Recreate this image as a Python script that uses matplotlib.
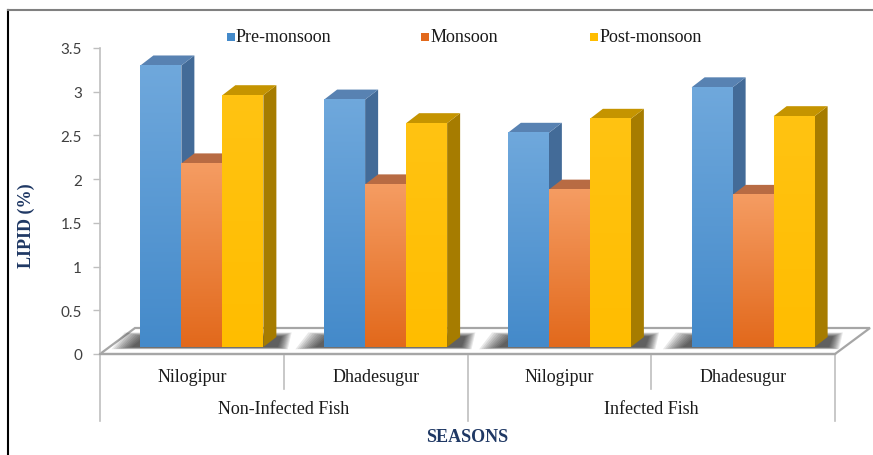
import numpy as np
import matplotlib.pyplot as plt
from matplotlib.patches import Polygon, Rectangle
from matplotlib.lines import Line2D
from matplotlib.colors import to_rgb

# data
sites = ['Nilogipur', 'Dhadesugur', 'Nilogipur', 'Dhadesugur']
fish_groups = ['Non-Infected Fish', 'Infected Fish']
seasons = ['Pre-monsoon', 'Monsoon', 'Post-monsoon']
pre_monsoon = [3.22, 2.83, 2.45, 2.97]
monsoon = [2.10, 1.86, 1.80, 1.74]
post_monsoon = [2.88, 2.56, 2.61, 2.64]
yticks = [0, 0.5, 1, 1.5, 2, 2.5, 3, 3.5]
ytick_labels = ['0', '0.5', '1', '1.5', '2', '2.5', '3', '3.5']

# colours: front top, front bottom, side, top
styles = [
    ('#6fa8dc', '#448aca', '#436b98', '#5882b2'),
    ('#f59c62', '#e2691c', '#b35e2c', '#b86b43'),
    ('#ffc312', '#ffbd00', '#a67c00', '#c59400'),
]
navy = '#1f3864'

W, H = 873, 456
fig = plt.figure(figsize=(W / 100, H / 100), dpi=100)
ax = fig.add_axes([100 / W, 1 - 355 / H, 735 / W, 306 / H])
ax.set_xlim(0, 4)
ax.set_ylim(0, 3.5)

ux = 735 / 4      # px per category
uy = 306 / 3.5    # px per unit value


def px(dx, dy):
    return dx / ux, dy / uy


# floor
fdx, fdy = px(35, 26)
floor = Polygon([(0, 0), (4, 0), (4 + fdx, fdy), (fdx, fdy)], closed=True,
                facecolor='white', edgecolor='#a6a6a6', lw=1.6,
                clip_on=False, zorder=1)
ax.add_patch(floor)

# bar geometry
offx, offy = px(10, 7)      # front face offset from floor front
ddx, ddy = px(13, 10)       # bar depth
bw = 41 / ux
values = [pre_monsoon, monsoon, post_monsoon]

# blurred shadows on floor
for g in range(4):
    gl = g + 0.5 + offx - 1.5 * bw
    gr = g + 0.5 + offx + 1.5 * bw + ddx
    for k in range(10):
        ex = px(3 + 2.2 * k, 0)[0]
        ey = px(0, 0.5 + 0.45 * k)[1]
        sx = px(6, 0)[0]
        shp = Polygon([(gl - ex - sx, offy - ey * 0.5), (gr + ex * 0.5, offy - ey * 0.5),
                       (gr + ex * 0.5 + ddx * 0.3, offy + ddy + ey), (gl - ex - sx + ddx, offy + ddy + ey)],
                      closed=True, facecolor='black', edgecolor='none', alpha=0.09,
                      clip_on=False, zorder=2)
        ax.add_patch(shp)

z = 3
for g in range(4):
    for s in range(3):
        v = values[s][g]
        x0 = g + 0.5 + offx - 1.5 * bw + s * bw
        x1 = x0 + bw
        y0 = offy
        y1 = offy + v
        top_c, bot_c, side_c, lid_c = styles[s]
        side = Polygon([(x1, y0), (x1 + ddx, y0 + ddy), (x1 + ddx, y1 + ddy), (x1, y1)],
                       closed=True, facecolor=side_c, edgecolor='none', zorder=z, clip_on=False)
        lid = Polygon([(x0, y1), (x1, y1), (x1 + ddx, y1 + ddy), (x0 + ddx, y1 + ddy)],
                      closed=True, facecolor=lid_c, edgecolor='none', zorder=z, clip_on=False)
        ax.add_patch(side)
        ax.add_patch(lid)
        t = np.linspace(0, 1, 64)[:, None]
        c0 = np.array(to_rgb(bot_c))
        c1 = np.array(to_rgb(top_c))
        grad = (c0 + (c1 - c0) * t)[:, None, :].repeat(2, axis=1)
        ax.imshow(grad, extent=[x0, x1, y0, y1], origin='lower', aspect='auto',
                  interpolation='bilinear', zorder=z + 0.5, clip_on=False)
        z += 1

ax.set_xlim(0, 4)
ax.set_ylim(0, 3.5)

# axes styling
for sp in ['top', 'right', 'bottom']:
    ax.spines[sp].set_visible(False)
ax.spines['left'].set_color('#bfbfbf')
ax.spines['left'].set_linewidth(1.2)
ax.set_xticks([])
ax.set_yticks(yticks)
ax.set_yticklabels(ytick_labels, fontsize=11, fontfamily='Lato', color='#404040')
ax.tick_params(axis='y', direction='out', length=5, color='#bfbfbf', width=1, pad=8)
ax.patch.set_alpha(0)

# category table below floor
lc = '#bfbfbf'
ax.plot([0, 4], [0, 0], color='#a6a6a6', lw=1.6, clip_on=False, zorder=50)
for xv, depth in zip([0, 1, 2, 3, 4], [422, 390, 422, 390, 422]):
    ax.plot([xv, xv], [0, -(depth - 355) / uy], color=lc, lw=1.2, clip_on=False)
for i, name in enumerate(sites):
    ax.text(i + 0.5, -(378 - 355) / uy, name, ha='center', va='center',
            fontsize=13, fontfamily='Liberation Serif', color='#1a1a1a')
for i, name in enumerate(fish_groups):
    ax.text(2 * i + 1, -(410 - 355) / uy, name, ha='center', va='center',
            fontsize=13, fontfamily='Liberation Serif', color='#1a1a1a')

fig.text(467 / W, 1 - 438 / H, 'SEASONS', ha='center', va='center', fontsize=13,
         fontweight='bold', fontfamily='Liberation Serif', color=navy)
fig.text(26 / W, 1 - 226 / H, 'LIPID (%)', ha='center', va='center', rotation=90,
         fontsize=13, fontweight='bold', fontfamily='Liberation Serif', color=navy)

# legend
for name, sq, tx, st in zip(seasons, [227, 421, 590], [236, 431, 600], styles):
    fig.patches.append(Rectangle((sq / W, 1 - 42 / H), 8 / W, 8 / H, transform=fig.transFigure,
                                 facecolor=st[1], edgecolor='none'))
    fig.text(tx / W, 1 - 38 / H, name, ha='left', va='center', fontsize=13,
             fontfamily='Liberation Serif', color='#1a1a1a')

# outer frame
fig.add_artist(Line2D([8 / W, 8 / W], [0, 1 - 11 / H], color='black', lw=1.5))
fig.add_artist(Line2D([8 / W, 1], [1 - 11 / H, 1 - 11 / H], color='#808080', lw=1.5))

fig.savefig('out.png', dpi=100)
